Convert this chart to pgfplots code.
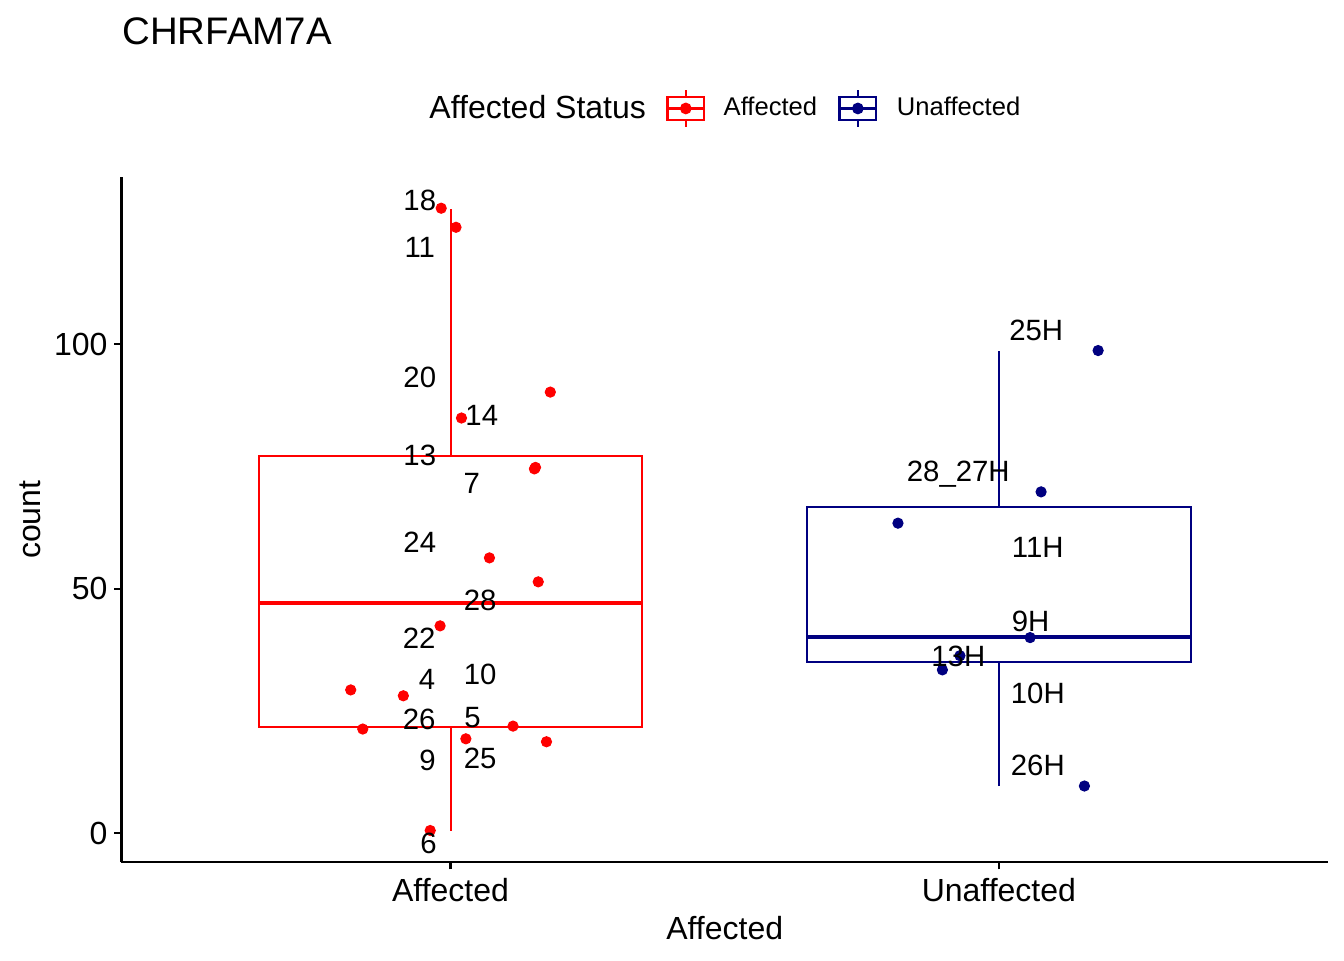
\documentclass[border=0pt]{standalone}
\usepackage{fontspec}
\setmainfont{Liberation Sans}
\usepackage{pgfplots}
\pgfplotsset{compat=1.18}
\definecolor{affred}{RGB}{255,0,0}
\definecolor{unnavy}{RGB}{0,0,128}
\begin{document}
\begin{tikzpicture}
\useasboundingbox (0,0) rectangle (504pt,360pt);
\node[anchor=base west, inner sep=0pt, font=\fontsize{14.4}{17}\selectfont] at (45.75pt,343.5pt) {CHRFAM7A};
\begin{axis}[
  at={(45.56pt,36.75pt)}, anchor=south west,
  scale only axis, width=452.4pt, height=256.7pt,
  xmin=0.4, xmax=2.6, ymin=-5.89, ymax=134.09,
  axis x line*=bottom, axis y line*=left,
  axis line style={-, line width=0.8pt, black},
  xtick={1,2}, xticklabels={Affected,Unaffected},
  ytick={0,50,100},
  tick align=outside, major tick length=2.75pt,
  every tick/.style={black, line width=0.8pt},
  tick label style={font=\fontsize{12}{14}\selectfont, text=black},
  /pgf/number format/assume math mode=true,
  yticklabel style={anchor=east, inner sep=0pt, xshift=-2.3pt},
  xticklabel style={anchor=north, inner sep=0pt, yshift=-3.0pt},
  xlabel={Affected}, ylabel={count},
  label style={font=\fontsize{12}{14}\selectfont},
  xlabel style={at={(axis description cs:0.5,-0.0781)}, anchor=north, inner sep=0pt},
  ylabel style={at={(axis description cs:-0.067,0.5)}, anchor=base, inner sep=0pt},
  clip=false,
  legend columns=-1,
  legend style={at={(axis description cs:0.2553,1.1008)}, anchor=west, draw=none, fill=none,
    inner sep=0pt, outer sep=0pt, /tikz/column sep=0pt, nodes={inner sep=0pt},
    cells={anchor=west}, font=\fontsize{9.6}{11.5}\selectfont},
]
\addlegendimage{empty legend}
\addlegendentry[font=\fontsize{12}{14}\selectfont]{Affected Status}
\addlegendimage{legend image code/.code={
  \path (-7.88pt,0pt) (20.89pt,0pt);
  \draw[affred, line width=0.8pt] (0pt,-4.26pt) rectangle (13.76pt,4.26pt);
  \draw[affred, line width=0.8pt] (0pt,0pt) -- (13.76pt,0pt);
  \draw[affred, line width=0.8pt] (6.88pt,4.26pt) -- (6.88pt,6.88pt);
  \draw[affred, line width=0.8pt] (6.88pt,-4.26pt) -- (6.88pt,-6.88pt);
  \draw[affred, mark=*, mark size=2.0pt] plot coordinates {(6.88pt,0pt)};
}}
\addlegendentry{Affected}
\addlegendimage{legend image code/.code={
  \path (-8.18pt,0pt) (21.32pt,0pt);
  \draw[unnavy, line width=0.8pt] (0pt,-4.26pt) rectangle (13.76pt,4.26pt);
  \draw[unnavy, line width=0.8pt] (0pt,0pt) -- (13.76pt,0pt);
  \draw[unnavy, line width=0.8pt] (6.88pt,4.26pt) -- (6.88pt,6.88pt);
  \draw[unnavy, line width=0.8pt] (6.88pt,-4.26pt) -- (6.88pt,-6.88pt);
  \draw[unnavy, mark=*, mark size=2.0pt] plot coordinates {(6.88pt,0pt)};
}}
\addlegendentry{Unaffected}

% Affected box
\addplot[affred, line width=0.75pt, forget plot] coordinates {(0.65,21.66) (1.35,21.66) (1.35,77.2) (0.65,77.2) (0.65,21.66) (1.35,21.66)};
\addplot[affred, line width=1.5pt, forget plot] coordinates {(0.65,47.0) (1.35,47.0)};
\addplot[affred, line width=0.75pt, forget plot] coordinates {(1,0.51) (1,21.66)};
\addplot[affred, line width=0.75pt, forget plot] coordinates {(1,77.2) (1,127.7)};
% Unaffected box
\addplot[unnavy, line width=0.75pt, forget plot] coordinates {(1.65,34.95) (2.35,34.95) (2.35,66.65) (1.65,66.65) (1.65,34.95) (2.35,34.95)};
\addplot[unnavy, line width=1.5pt, forget plot] coordinates {(1.65,40.06) (2.35,40.06)};
\addplot[unnavy, line width=0.75pt, forget plot] coordinates {(2,9.65) (2,34.95)};
\addplot[unnavy, line width=0.75pt, forget plot] coordinates {(2,66.65) (2,98.6)};

% points
\addplot[only marks, mark=*, affred, mark size=1.9pt, forget plot] coordinates {
(0.983,127.8) (1.010,123.9) (1.182,90.2) (1.020,84.9) (1.155,74.8) (1.153,74.5)
(1.071,56.3) (1.160,51.4) (0.981,42.4) (0.818,29.3) (0.914,28.1) (0.840,21.3)
(1.114,21.9) (1.028,19.3) (1.175,18.7) (0.963,0.55)};
\addplot[only marks, mark=*, unnavy, mark size=1.9pt, forget plot] coordinates {
(2.181,98.7) (2.077,69.8) (1.816,63.4) (2.057,40.0) (1.929,36.3) (1.897,33.4) (2.156,9.65)};

% labels
\addplot[draw=none, mark=none, forget plot, nodes near coords, point meta=explicit symbolic,
  nodes near coords style={anchor=center, inner sep=0pt, text=black, font=\fontsize{11}{13}\selectfont, text height=7.9pt, text depth=0pt}]
coordinates {
(0.944,129.5) [18] (0.944,119.9) [11] (0.944,93.3) [20] (1.057,85.5) [14]
(0.944,77.3) [13] (1.039,71.7) [7] (0.944,59.6) [24] (1.054,47.7) [28]
(0.943,39.9) [22] (0.957,31.5) [4] (1.054,32.6) [10] (0.943,23.3) [26]
(1.040,23.7) [5] (0.958,15.0) [9] (1.054,15.3) [25] (0.960,-2.07) [6]
(2.068,102.9) [25H] (1.926,74.1) [28\_27H] (2.071,58.6) [11H] (2.058,43.5) [9H]
(1.926,36.2) [13H] (2.071,28.7) [10H] (2.071,13.9) [26H]
};
\end{axis}
\end{tikzpicture}
\end{document}
